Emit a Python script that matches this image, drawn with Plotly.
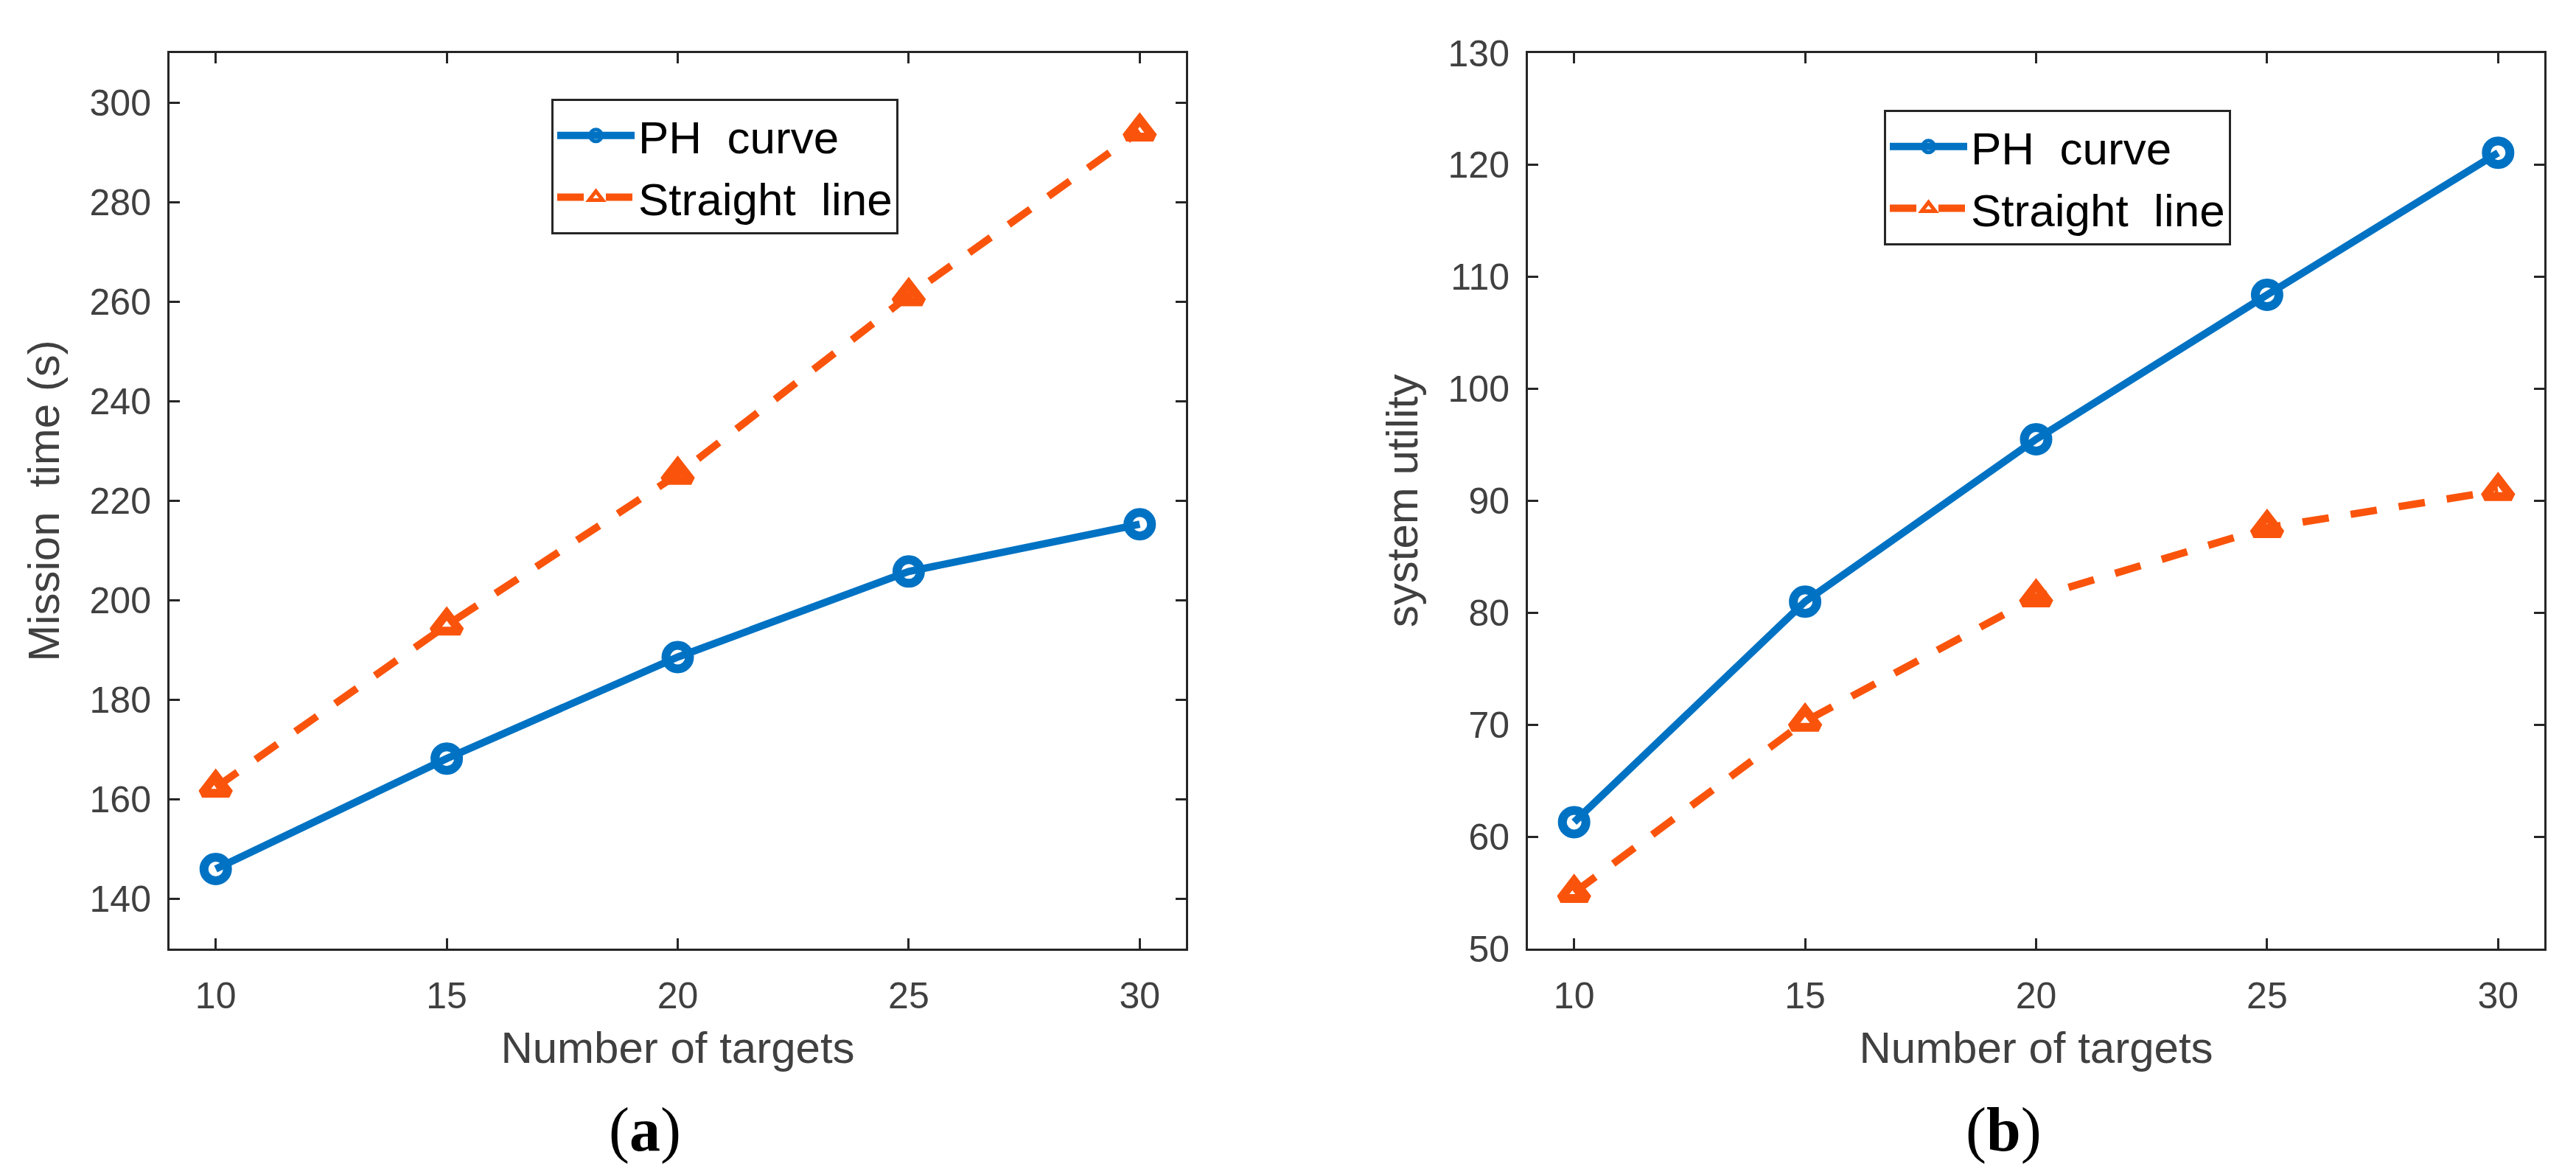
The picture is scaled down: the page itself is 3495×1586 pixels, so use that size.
import plotly.graph_objects as go

# ---- data ----
targets = [10, 15, 20, 25, 30]
ph_time = [146.0, 168.2, 188.6, 205.8, 215.3]
line_time = [162.4, 195.0, 225.3, 261.2, 294.3]
ph_utility = [61.3, 81.0, 95.5, 108.4, 121.1]
line_utility = [55.0, 70.3, 81.4, 87.6, 90.9]
x_ticks = [10, 15, 20, 25, 30]
y_time_ticks = [140, 160, 180, 200, 220, 240, 260, 280, 300]
y_util_ticks = [50, 60, 70, 80, 90, 100, 110, 120, 130]
series_names = ["PH\u00a0 curve", "Straight\u00a0 line"]
x_title = "Number of targets"
y_titles = ["Mission\u00a0 time (s)", "system utility"]
panel_labels = ["(<b>a</b>)", "(<b>b</b>)"]

W, H = 3495, 1586
BLUE = "#0072C3"
ORANGE = "#FA540C"
AX = "#262626"
TXT = "#404040"
FONT = "Liberation Sans, Arial, sans-serif"

fig = go.Figure()

def add_pair(ph, sl, xa, ya, legend):
    fig.add_trace(go.Scatter(
        x=targets, y=ph, xaxis=xa, yaxis=ya, name=series_names[0], legend=legend,
        mode="lines+markers",
        line=dict(color=BLUE, width=10),
        marker=dict(symbol="circle-open", size=32, color=BLUE, line=dict(color=BLUE, width=12)),
    ))
    fig.add_trace(go.Scatter(
        x=targets, y=sl, xaxis=xa, yaxis=ya, name=series_names[1], legend=legend,
        mode="lines+markers",
        line=dict(color=ORANGE, width=10, dash="36px,30px"),
        marker=dict(symbol="triangle-up-open", size=32, color=ORANGE, line=dict(color=ORANGE, width=12)),
    ))

add_pair(ph_time, line_time, "x", "y", "legend")
add_pair(ph_utility, line_utility, "x2", "y2", "legend2")

def xaxis_cfg(domain, anchor):
    return dict(
        domain=domain, anchor=anchor, range=[9, 31], tickvals=x_ticks, automargin=False,
        ticks="inside", ticklen=14, tickwidth=3, tickcolor=AX,
        showline=True, linewidth=3, linecolor=AX, mirror="ticks",
        showgrid=False, zeroline=False,
        tickfont=dict(family=FONT, size=50, color=TXT), ticklabelstandoff=18,
        title=dict(text=x_title, font=dict(family=FONT, size=60, color=TXT), standoff=22),
    )

def yaxis_cfg(domain, anchor, rng, ticks, title):
    return dict(
        domain=domain, anchor=anchor, range=rng, tickvals=ticks, automargin=False,
        ticks="inside", ticklen=14, tickwidth=3, tickcolor=AX,
        showline=True, linewidth=3, linecolor=AX, mirror="ticks",
        showgrid=False, zeroline=False,
        tickfont=dict(family=FONT, size=50, color=TXT), ticklabelstandoff=12,
        title=dict(text=title, font=dict(family=FONT, size=60, color=TXT), standoff=22),
    )

ydom = [1 - 1287 / H, 1 - 72 / H]
fig.update_layout(
    template="none",
    width=W, height=H,
    margin=dict(l=0, r=0, t=0, b=0, autoexpand=False),
    paper_bgcolor="white", plot_bgcolor="white",
    font=dict(family=FONT, color=TXT),
    xaxis=xaxis_cfg([230 / W, 1609 / W], "y"),
    yaxis=yaxis_cfg(ydom, "x", [130, 310], y_time_ticks, y_titles[0]),
    xaxis2=xaxis_cfg([2073 / W, 3452 / W], "y2"),
    yaxis2=yaxis_cfg(ydom, "x2", [50, 130], y_util_ticks, y_titles[1]),
    legend=dict(x=748 / W, y=1 - 134 / H, xanchor="left", yanchor="top",
                bgcolor="white", bordercolor=AX, borderwidth=3,
                font=dict(family=FONT, size=62, color="black"), itemwidth=105,
                tracegroupgap=0),
    legend2=dict(x=2556 / W, y=1 - 149 / H, xanchor="left", yanchor="top",
                 bgcolor="white", bordercolor=AX, borderwidth=3,
                 font=dict(family=FONT, size=62, color="black"), itemwidth=105,
                 tracegroupgap=0),
    showlegend=True,
)

for label, cx in zip(panel_labels, [875, 2718]):
    fig.add_annotation(
        text=label, x=cx / W, y=1 - 1533 / H, xref="paper", yref="paper",
        xanchor="center", yanchor="middle", showarrow=False,
        font=dict(family="Liberation Serif, Times New Roman, serif", size=84, color="black"),
    )

fig.write_html("out.html", config={"displayModeBar": False},
               post_script="document.body.style.margin='0px';")
